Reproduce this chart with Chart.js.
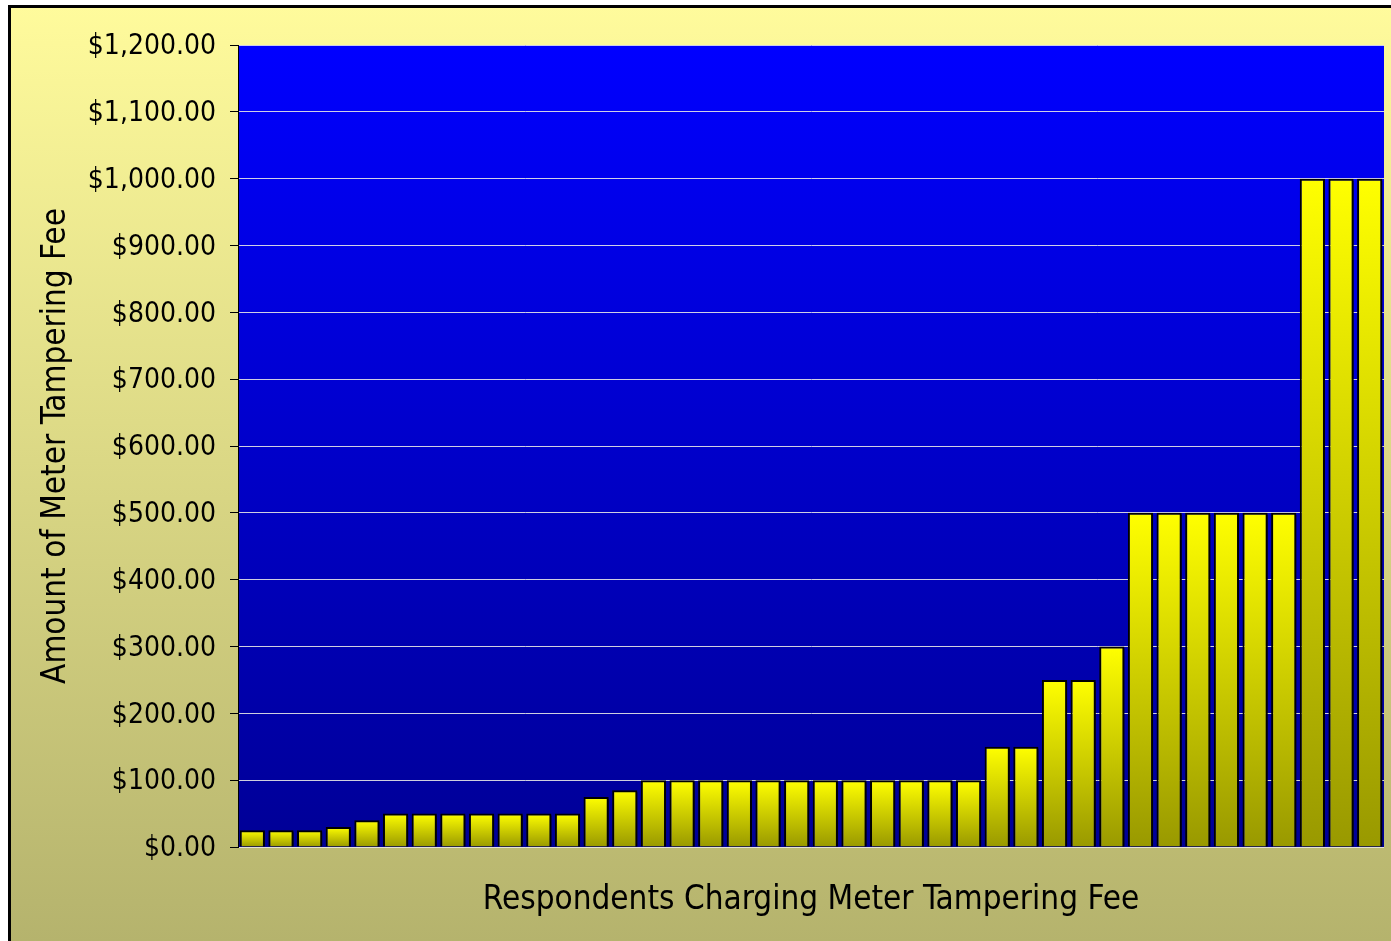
<!DOCTYPE html>
<html><head><meta charset="utf-8">
<script src="https://cdn.jsdelivr.net/npm/chart.js@4/dist/chart.umd.min.js"></script>
<style>html,body{margin:0;padding:0;overflow:hidden;background:#fff}#wrap{position:absolute;left:0;top:0;width:1391px;height:941px}</style>
</head><body><div id="wrap"><canvas id="c" width="1391" height="941"></canvas></div>
<script>
const categories = Array.from({length:40},(_,i)=>'R'+(i+1));
const fees = [25,25,25,30,40,50,50,50,50,50,50,50,75,85,100,100,100,100,100,100,100,100,100,100,100,100,150,150,250,250,300,500,500,500,500,500,500,1000,1000,1000];
const yTitle = 'Amount of Meter Tampering Fee';
const xTitle = 'Respondents Charging Meter Tampering Fee';
const FONT = 'DejaVu Sans Condensed, DejaVu Sans';

const bgPlugin = {
  id:'bg',
  beforeDraw(chart){
    const {ctx, chartArea:a, width, height} = chart;
    ctx.save();
    const g = ctx.createLinearGradient(0,5,0,height);
    g.addColorStop(0,'#FFFB9C'); g.addColorStop(1,'#B5B36D');
    ctx.fillStyle = g; ctx.fillRect(0,0,width,height);
    ctx.fillStyle='#fff'; ctx.fillRect(0,0,width,5); ctx.fillRect(0,0,8,height);
    ctx.strokeStyle='#000'; ctx.lineWidth=3;
    ctx.beginPath(); ctx.moveTo(9.5,height+5); ctx.lineTo(9.5,6.5); ctx.lineTo(width+5,6.5); ctx.stroke();
    const p = ctx.createLinearGradient(0,a.top,0,a.bottom);
    p.addColorStop(0,'#0000FF'); p.addColorStop(1,'#000096');
    ctx.fillStyle = p; ctx.fillRect(a.left,a.top,a.right-a.left,a.bottom-a.top);
    ctx.restore();
  },
  beforeDatasetsDraw(chart){
    const ctx = chart.ctx; ctx.save();
    ctx.shadowColor='rgba(0,0,0,0.75)'; ctx.shadowOffsetX=3; ctx.shadowOffsetY=2; ctx.shadowBlur=0;
  },
  afterDatasetsDraw(chart){ chart.ctx.restore(); }
};

const ctx = document.getElementById('c').getContext('2d');
const perBarGrad = (c)=>{
  const chart = c.chart; const a = chart.chartArea; if(!a) return '#FFFF00';
  const y = chart.scales.y;
  const v = c.raw; if(v==null) return '#FFFF00';
  const top = y.getPixelForValue(v), bot = y.getPixelForValue(0);
  const g = chart.ctx.createLinearGradient(0,top,0,bot);
  g.addColorStop(0,'#FFFF00'); g.addColorStop(1,'#999900');
  return g;
};

new Chart(ctx,{
  type:'bar',
  data:{labels:categories,datasets:[{data:fees,backgroundColor:perBarGrad,borderColor:'#000',borderWidth:2,barPercentage:0.88,categoryPercentage:1}]},
  options:{
    responsive:false,animation:false,
    layout:{padding:{left:10,top:45,right:7,bottom:0}},
    plugins:{legend:{display:false},tooltip:{enabled:false}},
    scales:{
      x:{
        grid:{display:false,drawTicks:false},
        border:{display:false},
        ticks:{display:false},
        title:{display:true,text:xTitle,color:'#000',font:{family:FONT,size:33},padding:{top:10,bottom:21}},
        afterFit(s){s.height=941-847;}
      },
      y:{
        min:0,max:1200,
        ticks:{stepSize:100,color:'#000',font:{family:FONT,size:28},padding:14,labelOffset:2,
          callback:(v)=>'$'+Number(v).toLocaleString('en-US',{minimumFractionDigits:2,maximumFractionDigits:2})},
        grid:{color:'rgba(230,230,230,0.9)',lineWidth:1,tickColor:'#000',tickLength:8,drawTicks:true},
        border:{display:true,color:'#000',width:1},
        title:{display:true,text:yTitle,color:'#000',font:{family:FONT,size:33},padding:{top:27,bottom:0}},
        afterFit(s){s.width=238-10;}
      }
    }
  },
  plugins:[bgPlugin]
});
</script></body></html>
